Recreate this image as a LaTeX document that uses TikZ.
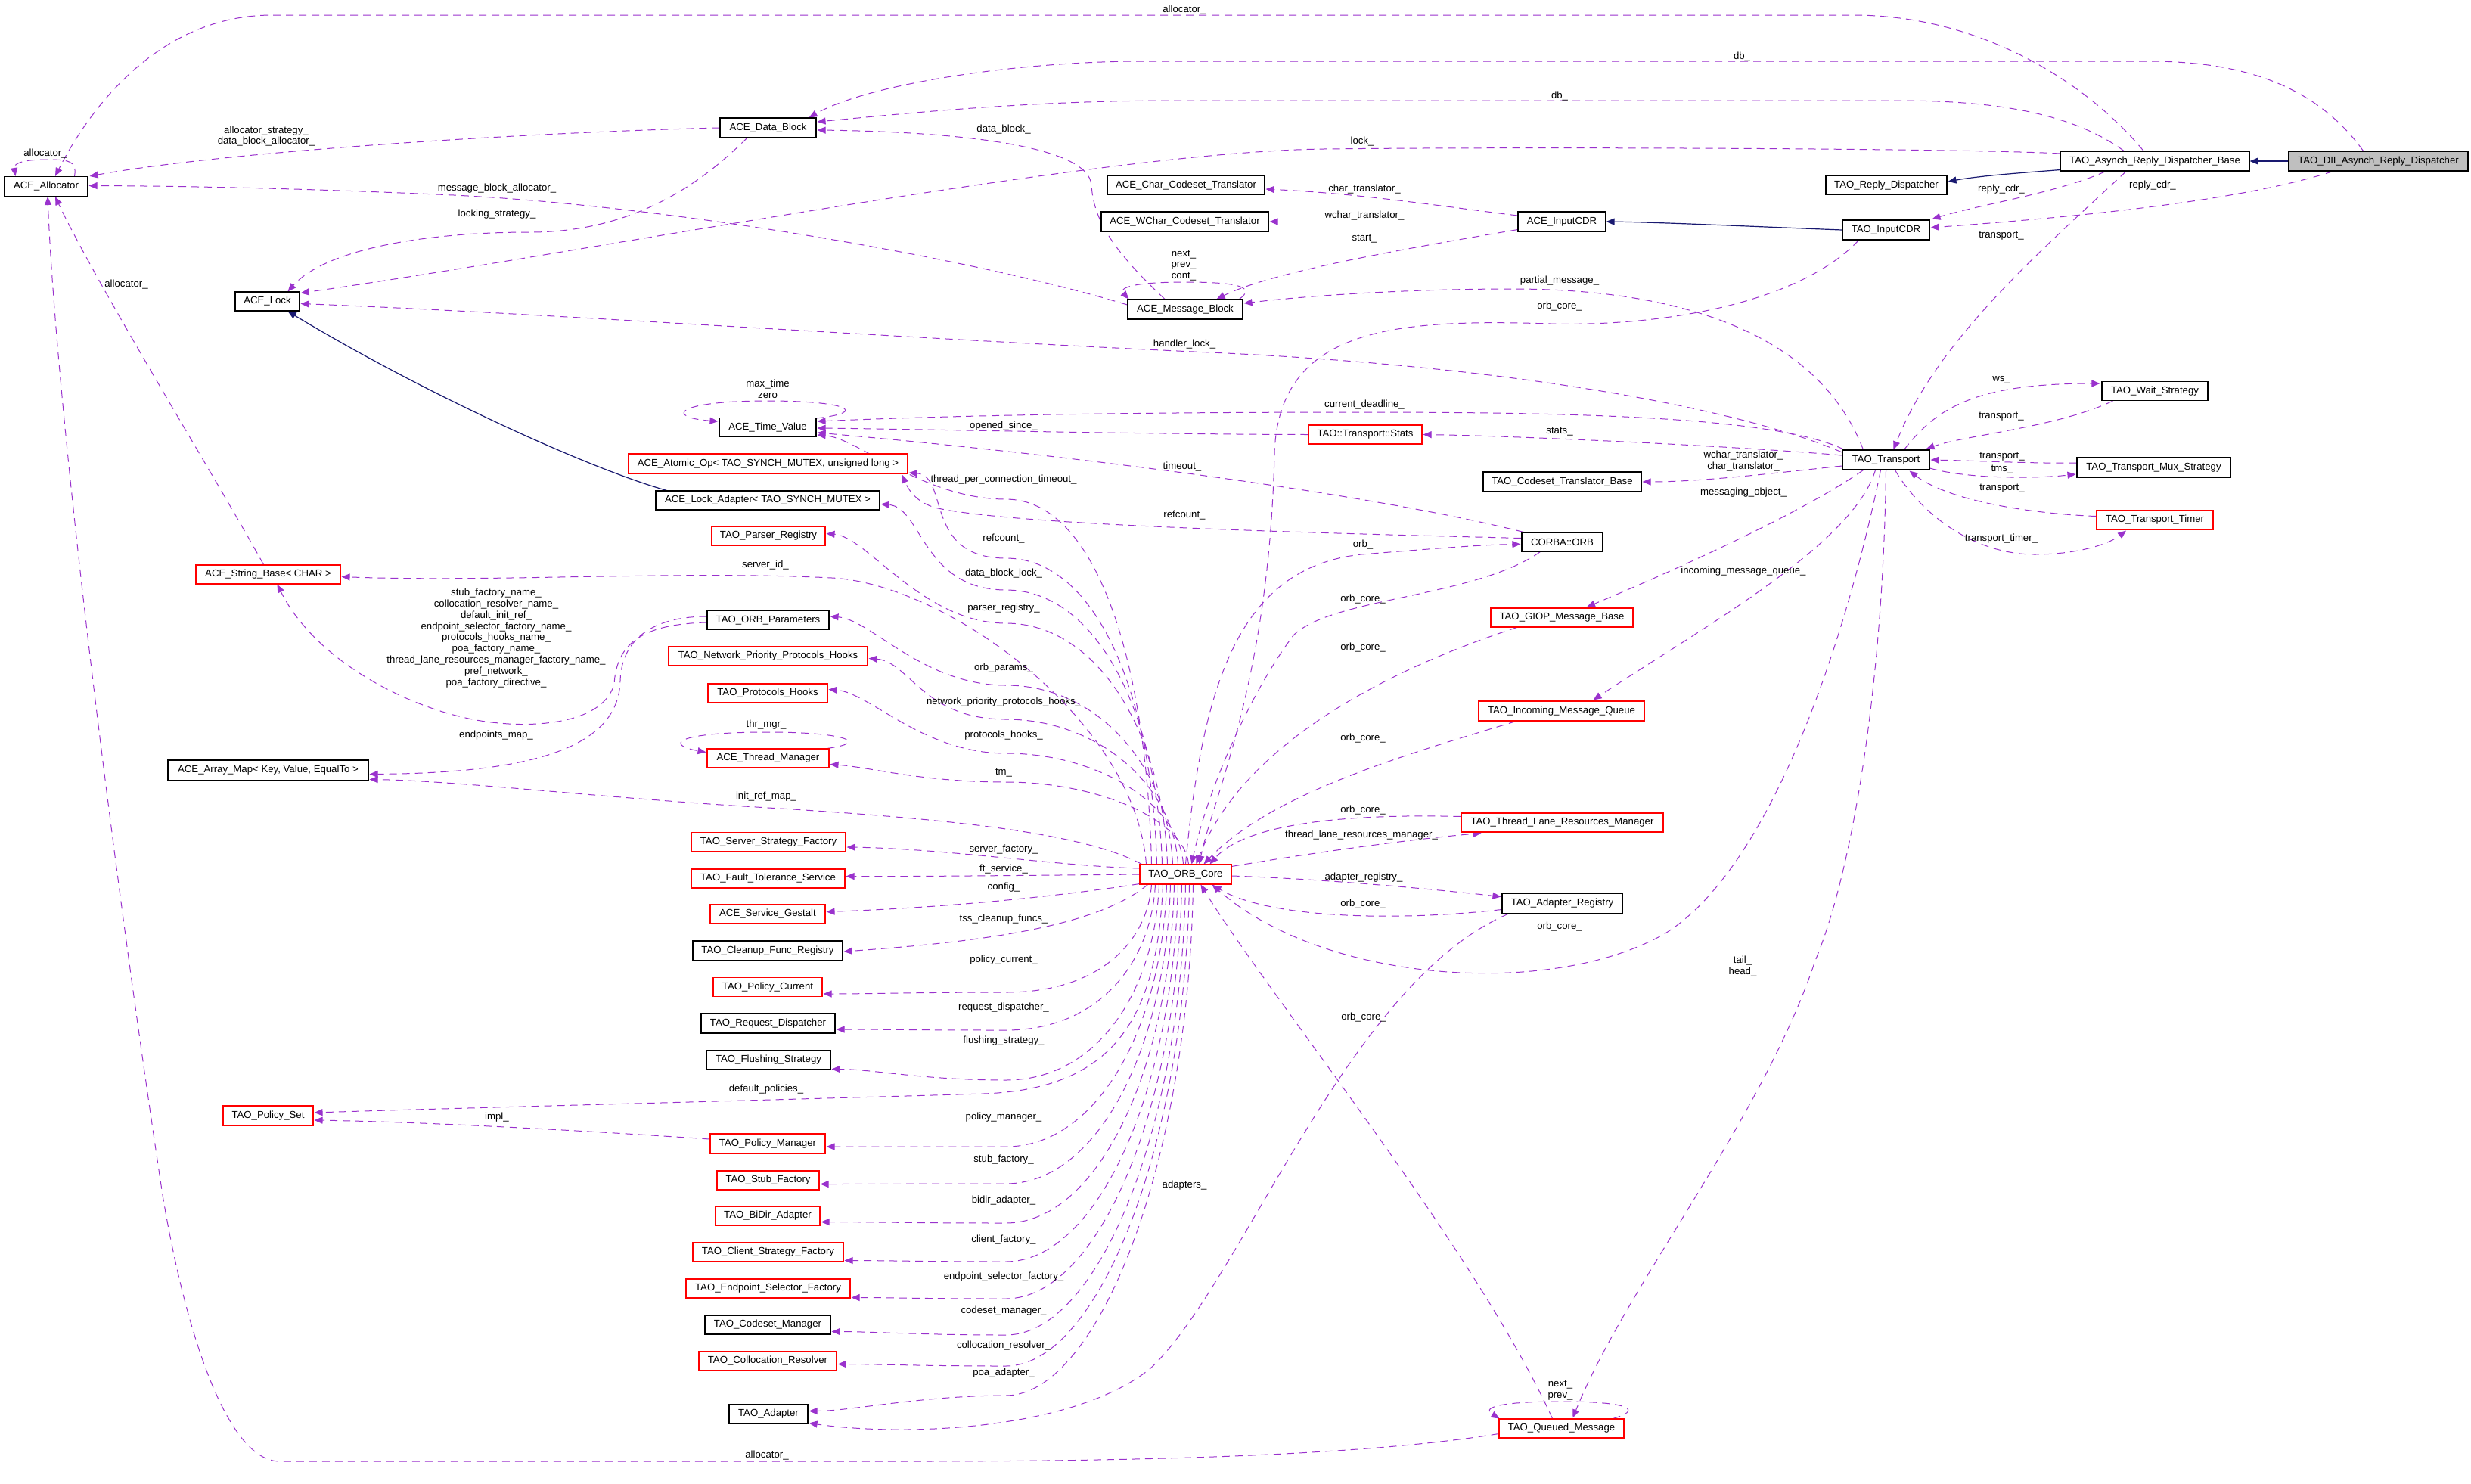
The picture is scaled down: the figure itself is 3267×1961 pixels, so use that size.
\documentclass[tikz,border=0pt]{standalone}
\usepackage{fontspec}
\setmainfont{Liberation Sans}
\usetikzlibrary{arrows.meta,calc}
\pgfdeclarelayer{bg}
\pgfsetlayers{bg,main}
\definecolor{edgec}{HTML}{9A32CD}
\definecolor{inhc}{HTML}{191970}
\definecolor{redc}{HTML}{FF0000}
\definecolor{greyc}{HTML}{BFBFBF}
\newcommand\dxup[4]{\draw[ref] ($(orbcore.north)+(#1,0)$) .. controls ($(orbcore.north)+(#1-6,{-0.55*(1143-#4)})$) and (1450,#4) .. (1330,#4) .. controls (1220,#4) and ($(#2.east)+(55,#3+4)$) .. ($(#2.east)+(1,#3)$);}
\newcommand\dxlow[4]{\draw[ref] ($(orbcore.south)+(#1,0)$) .. controls ($(orbcore.south)+(#1-6,{0.55*(#4-1169)})$) and (1450,#4) .. (1330,#4) .. controls (1220,#4) and ($(#2.east)+(55,#3)$) .. ($(#2.east)+(1,#3)$);}
\begin{document}
\begin{tikzpicture}[x=0.5pt,y=-0.5pt,font=\fontsize{6.6}{7.45}\selectfont,
  cls/.style={draw=black,line width=0.55pt,minimum height=12.5pt,inner sep=0pt,fill=white},
  clsr/.style={cls,draw=redc},
  ref/.style={draw=edgec,line width=0.5pt,dash pattern=on 5pt off 3.5pt,-{Triangle[length=5.5pt,width=4.5pt]}},
  inh/.style={draw=inhc,line width=0.6pt,-{Triangle[length=5.5pt,width=4.5pt]}},
  lbl/.style={inner sep=0pt,align=center}]
\useasboundingbox (0,0) rectangle (3267,1961);
% ---------- classes
\node[cls,fill=greyc,minimum width=118.5pt,minimum height=13pt] (dii) at (3144.5,213) {TAO\_DII\_Asynch\_Reply\_Dispatcher};
\node[cls,minimum width=125pt,minimum height=13pt] (arbase) at (2849,213) {TAO\_Asynch\_Reply\_Dispatcher\_Base};
\node[cls,minimum width=80pt] (replyd) at (2494,245) {TAO\_Reply\_Dispatcher};
\node[cls,minimum width=104pt] (charct) at (1568,245) {ACE\_Char\_Codeset\_Translator};
\node[cls,minimum width=110.5pt,minimum height=13pt] (wcharct) at (1566.5,293) {ACE\_WChar\_Codeset\_Translator};
\node[cls,minimum width=58pt,minimum height=13pt] (aceicdr) at (2065,293) {ACE\_InputCDR};
\node[cls,minimum width=57.5pt,minimum height=13pt] (taoicdr) at (2493.5,304) {TAO\_InputCDR};
\node[cls,minimum width=76pt,minimum height=13pt] (msgblk) at (1567,409) {ACE\_Message\_Block};
\node[cls,minimum width=63.5pt,minimum height=13pt] (datablk) at (1015.5,169) {ACE\_Data\_Block};
\node[cls,minimum width=55pt,minimum height=13pt] (alloc) at (61,246.5) {ACE\_Allocator};
\node[cls,minimum width=42.5pt] (lock) at (353.5,398.5) {ACE\_Lock};
\node[cls,minimum width=64pt] (timev) at (1015,565) {ACE\_Time\_Value};
\node[clsr,minimum width=184.5pt,minimum height=13pt] (atomic) at (1015.5,613) {ACE\_Atomic\_Op< TAO\_SYNCH\_MUTEX, unsigned long >};
\node[cls,minimum width=148pt] (lockad) at (1015,661.5) {ACE\_Lock\_Adapter< TAO\_SYNCH\_MUTEX >};
\node[clsr,minimum width=75pt] (parser) at (1016,708.5) {TAO\_Parser\_Registry};
\node[clsr,minimum width=95.5pt] (strbase) at (354.5,759.5) {ACE\_String\_Base< CHAR >};
\node[cls,minimum width=80.5pt] (orbparams) at (1015.5,820) {TAO\_ORB\_Parameters};
\node[clsr,minimum width=131.5pt] (nphooks) at (1015.5,867.5) {TAO\_Network\_Priority\_Protocols\_Hooks};
\node[clsr,minimum width=79pt] (phooks) at (1015,916.5) {TAO\_Protocols\_Hooks};
\node[clsr,minimum width=80.5pt] (thrmgr) at (1015.5,1002.5) {ACE\_Thread\_Manager};
\node[cls,minimum width=132.5pt,minimum height=13.5pt] (arrmap) at (354.5,1018.5) {ACE\_Array\_Map< Key, Value, EqualTo >};
\node[clsr,minimum width=102pt] (ssf) at (1016,1113) {TAO\_Server\_Strategy\_Factory};
\node[clsr,minimum width=101.5pt] (fts) at (1015.5,1161.5) {TAO\_Fault\_Tolerance\_Service};
\node[clsr,minimum width=76pt] (gestalt) at (1015,1208.5) {ACE\_Service\_Gestalt};
\node[cls,minimum width=99pt,minimum height=13pt] (cleanup) at (1015,1257) {TAO\_Cleanup\_Func\_Registry};
\node[clsr,minimum width=72pt] (polcur) at (1015,1305) {TAO\_Policy\_Current};
\node[cls,minimum width=88.5pt,minimum height=13pt] (reqd) at (1015.5,1353) {TAO\_Request\_Dispatcher};
\node[cls,minimum width=82pt] (flush) at (1016,1401.5) {TAO\_Flushing\_Strategy};
\node[clsr,minimum width=59.5pt,minimum height=13pt] (polset) at (354.5,1475) {TAO\_Policy\_Set};
\node[clsr,minimum width=76pt,minimum height=13pt] (polmgr) at (1015,1512) {TAO\_Policy\_Manager};
\node[clsr,minimum width=67.5pt] (stubf) at (1015.5,1560.5) {TAO\_Stub\_Factory};
\node[clsr,minimum width=69pt] (bidir) at (1015,1607.5) {TAO\_BiDir\_Adapter};
\node[clsr,minimum width=99.5pt] (csf) at (1015.5,1655.5) {TAO\_Client\_Strategy\_Factory};
\node[clsr,minimum width=108.5pt] (esf) at (1015.5,1703.5) {TAO\_Endpoint\_Selector\_Factory};
\node[cls,minimum width=83pt] (csm) at (1015,1751.5) {TAO\_Codeset\_Manager};
\node[clsr,minimum width=91pt] (coll) at (1015,1799.5) {TAO\_Collocation\_Resolver};
\node[cls,minimum width=52pt] (adapter) at (1016,1869.5) {TAO\_Adapter};
\node[clsr,minimum width=60.5pt,minimum height=13pt] (orbcore) at (1567.5,1156) {TAO\_ORB\_Core};
\node[cls,minimum width=53.5pt] (corbaorb) at (2065.5,716.5) {CORBA::ORB};
\node[clsr,minimum width=94pt] (giop) at (2065,816.5) {TAO\_GIOP\_Message\_Base};
\node[clsr,minimum width=109.5pt,minimum height=13pt] (imq) at (2064.5,940) {TAO\_Incoming\_Message\_Queue};
\node[clsr,minimum width=133.5pt] (tlrm) at (2065.5,1087.5) {TAO\_Thread\_Lane\_Resources\_Manager};
\node[cls,minimum width=79.5pt,minimum height=13.5pt] (adreg) at (2065.5,1194.5) {TAO\_Adapter\_Registry};
\node[clsr,minimum width=82.5pt] (qmsg) at (2064.5,1888.5) {TAO\_Queued\_Message};
\node[clsr,minimum width=75pt] (stats) at (1805,574.5) {TAO::Transport::Stats};
\node[cls,minimum width=104.5pt,minimum height=13pt] (cstb) at (2065.5,637) {TAO\_Codeset\_Translator\_Base};
\node[cls,minimum width=57.5pt,minimum height=13pt] (transport) at (2493.5,608) {TAO\_Transport};
\node[cls,minimum width=70pt] (wait) at (2849,517) {TAO\_Wait\_Strategy};
\node[cls,minimum width=101.5pt,minimum height=13pt] (mux) at (2847.5,618) {TAO\_Transport\_Mux\_Strategy};
\node[clsr,minimum width=77pt] (timer) at (2849,687.5) {TAO\_Transport\_Timer};
\begin{pgfonlayer}{bg}
\fill[white] (0,0) rectangle (3267,1961);
% ---------- inheritance
\draw[inh] (dii.west) -- (arbase.east);
\draw[inh] ($(arbase.south west)+(0,-2)$) .. controls (2680,228) and (2620,232) .. ($(replyd.east)+(1,-5)$);
\draw[inh] (taoicdr.west) .. controls (2330,300) and (2200,294) .. (aceicdr.east);
\draw[inh] ($(lockad.north west)+(15,0)$) .. controls (780,620) and (560,520) .. ($(lock.south)+(27,0)$);
% ---------- top edges
\draw[ref] ($(arbase.north)+(-15,0)$) .. controls (2760,110) and (2620,20) .. (2450,20) -- (360,20) .. controls (200,20) and (110,160) .. ($(alloc.north)+(12,0)$);
\draw[ref] ($(dii.north)+(-20,0)$) .. controls (3060,110) and (2960,81) .. (2840,81) -- (1510,81) .. controls (1350,81) and (1150,110) .. ($(datablk.north east)+(-10,0)$);
\draw[ref] ($(arbase.north)+(-41,0)$) .. controls (2740,150) and (2640,133) .. (2510,133) -- (1550,133) .. controls (1350,133) and (1180,152) .. ($(datablk.east)+(1,-8)$);
\draw[ref] ($(msgblk.north)+(-27,0)$) .. controls (1470,330) and (1446,290) .. (1443,245) .. controls (1440,190) and (1250,174) .. ($(datablk.east)+(1,3)$);
\draw[ref] ($(arbase.west)+(0,-10)$) .. controls (2600,196) and (2000,194) .. (1750,197) .. controls (1450,201) and (800,330) .. ($(lock.north east)+(1,2)$);
\draw[ref] (datablk.west) .. controls (700,175) and (300,200) .. ($(alloc.north east)+(2,0)$);
\draw[ref] ($(datablk.south)+(-28,0)$) .. controls (920,250) and (830,307) .. (700,307) .. controls (560,307) and (430,330) .. ($(lock.north)+(27,0)$);
\draw[ref] ($(msgblk.west)+(0,-6)$) .. controls (1300,345) and (900,273) .. (600,258) .. controls (400,249) and (250,246) .. ($(alloc.east)+(1,-1)$);
\draw[ref] ($(alloc.north east)+(-18,0)$) .. controls (102,212) and (90,211) .. (60,211) .. controls (25,211) and (18,218) .. ($(alloc.north west)+(15,0)$);
\draw[ref] ($(strbase.north)+(-6,0)$) .. controls (290,640) and (130,380) .. ($(alloc.south)+(12,0)$);
\draw[ref] ($(qmsg.west)+(0,7)$) .. controls (1800,1925) and (1500,1932) .. (1200,1932) -- (370,1932) .. controls (300,1932) and (245,1760) .. (215,1580) .. controls (150,1150) and (75,550) .. ($(alloc.south)+(2,0)$);
% ---------- CDR / reply dispatcher
\draw[ref] ($(aceicdr.west)+(0,-8)$) .. controls (1900,272) and (1800,256) .. ($(charct.east)+(1,5)$);
\draw[ref] (aceicdr.west) -- ($(wcharct.east)+(1,0)$);
\draw[ref] ($(aceicdr.south west)+(0,-3)$) .. controls (1850,330) and (1680,360) .. ($(msgblk.north east)+(-35,0)$);
\draw[ref] ($(arbase.south)+(-65,0)$) .. controls (2720,255) and (2620,270) .. ($(taoicdr.north east)+(3,-1)$);
\draw[ref] ($(dii.south)+(-60,0)$) .. controls (2950,270) and (2700,290) .. ($(taoicdr.east)+(1,-3)$);
\draw[ref] ($(arbase.south)+(-38,0)$) .. controls (2700,330) and (2560,450) .. ($(transport.north)+(10,0)$);
\draw[ref] ($(msgblk.north east)+(-5,0)$) .. controls (1660,380) and (1640,373) .. (1567,373) .. controls (1490,373) and (1480,382) .. ($(msgblk.north west)+(2,0)$);
\draw[ref] ($(taoicdr.south west)+(22,0)$) .. controls (2380,400) and (2200,432) .. (2050,428) .. controls (1850,422) and (1690,430) .. (1685,600) .. controls (1678,900) and (1605,1050) .. ($(orbcore.north)+(18,0)$);
% ---------- transport
\draw[ref] ($(transport.north west)+(28,0)$) .. controls (2400,430) and (2200,382) .. (2000,382) .. controls (1850,382) and (1720,392) .. ($(msgblk.east)+(1,-8)$);
\draw[ref] ($(transport.west)+(0,-10)$) .. controls (2300,540) and (2000,484) .. (1600,466) .. controls (1200,448) and (700,413) .. ($(lock.east)+(1,3)$);
\draw[ref] ($(transport.north)+(24,0)$) .. controls (2560,540) and (2610,507) .. ($(wait.west)+(-2,-10)$);
\draw[ref] ($(wait.south west)+(15,0)$) .. controls (2720,565) and (2600,575) .. ($(transport.north east)+(-5,-1)$);
\draw[ref] ($(transport.north west)+(3,0)$) .. controls (2350,552) and (2100,545) .. (1800,545) .. controls (1400,545) and (1200,552) .. ($(timev.east)+(1,-8)$);
\draw[ref] (stats.west) .. controls (1500,574) and (1200,567) .. ($(timev.east)+(1,1)$);
\draw[ref] ($(transport.west)+(0,-6)$) .. controls (2300,590) and (2000,576) .. ($(stats.east)+(1,0)$);
\draw[ref] ($(timev.north east)+(0,1)$) .. controls (1150,545) and (1120,530) .. (1015,530) .. controls (890,530) and (880,552) .. ($(timev.west)+(-1,-8)$);
\draw[ref] ($(transport.west)+(0,8)$) .. controls (2350,625) and (2250,637) .. ($(cstb.east)+(1,0)$);
\draw[ref] ($(mux.west)+(0,-6)$) .. controls (2690,613) and (2610,609) .. ($(transport.east)+(1,0)$);
\draw[ref] ($(transport.east)+(0,11)$) .. controls (2600,633) and (2690,633) .. ($(mux.west)+(-1,9)$);
\draw[ref] ($(timer.west)+(0,-5)$) .. controls (2700,680) and (2580,665) .. ($(transport.south east)+(-27,1)$);
\draw[ref] ($(transport.south)+(12,0)$) .. controls (2540,680) and (2610,733) .. (2690,733) .. controls (2750,733) and (2790,718) .. ($(timer.south)+(-38,1)$);
\draw[ref] ($(transport.south west)+(28,0)$) .. controls (2380,680) and (2200,760) .. ($(giop.north)+(33,-1)$);
\draw[ref] ($(transport.south)+(-14,0)$) .. controls (2450,720) and (2250,830) .. ($(imq.north)+(42,-1)$);
\draw[ref] ($(transport.south)+(0,0)$) .. controls (2490,900) and (2450,1150) .. (2400,1270) .. controls (2330,1480) and (2150,1700) .. ($(qmsg.north)+(15,-1)$);
\draw[ref] ($(transport.south)+(-7,0)$) .. controls (2440,850) and (2340,1150) .. (2200,1235) .. controls (2050,1320) and (1750,1300) .. ($(orbcore.south)+(35,0)$);
% ---------- CORBA::ORB
\draw[ref] ($(corbaorb.north west)+(3,0)$) .. controls (1800,650) and (1400,600) .. ($(timev.east)+(1,7)$);
\draw[ref] ($(corbaorb.west)+(0,-5)$) .. controls (1750,705) and (1350,695) .. (1240,672) .. controls (1210,665) and (1200,645) .. ($(atomic.south east)+(-8,1)$);
\draw[ref] (orbcore.north) .. controls (1590,900) and (1640,750) .. (1800,733) .. controls (1900,725) and (1960,720) .. ($(corbaorb.west)+(-1,3)$);
\draw[ref] ($(corbaorb.south west)+(25,0)$) .. controls (1950,790) and (1760,790) .. (1710,840) .. controls (1650,920) and (1595,1050) .. ($(orbcore.north)+(8,0)$);
% ---------- right side of ORB core
\draw[ref] ($(giop.south west)+(35,0)$) .. controls (1820,890) and (1640,990) .. ($(orbcore.north)+(14,0)$);
\draw[ref] ($(imq.south west)+(50,0)$) .. controls (1850,1000) and (1680,1050) .. ($(orbcore.north)+(24,0)$);
\draw[ref] ($(tlrm.west)+(0,-8)$) .. controls (1800,1076) and (1650,1085) .. ($(orbcore.north)+(32,0)$);
\draw[ref] ($(orbcore.north east)+(0,3)$) .. controls (1750,1125) and (1880,1108) .. ($(tlrm.south west)+(27,1)$);
\draw[ref] ($(orbcore.east)+(0,2)$) .. controls (1750,1162) and (1900,1176) .. ($(adreg.west)+(-1,-9)$);
\draw[ref] ($(adreg.west)+(0,8)$) .. controls (1850,1218) and (1680,1215) .. ($(orbcore.south east)+(-25,1)$);
\draw[ref] ($(qmsg.north)+(-12,0)$) .. controls (1950,1650) and (1680,1320) .. ($(orbcore.south)+(20,0)$);
\draw[ref] ($(adreg.south west)+(8,0)$) .. controls (1780,1300) and (1640,1700) .. (1520,1810) .. controls (1420,1890) and (1200,1900) .. ($(adapter.east)+(1,12)$);
\draw[ref] ($(qmsg.north east)+(-15,0)$) .. controls (2170,1865) and (2160,1853) .. (2065,1853) .. controls (1975,1853) and (1960,1862) .. ($(qmsg.north west)+(1,0)$);
% ---------- ORB core to the left column
\dxup{-45}{timev}{10}{660}
\dxup{-38}{atomic}{12}{738}
\dxup{-31}{lockad}{5}{780}
\dxup{-24}{parser}{-3}{824}
\dxup{-17}{orbparams}{-5}{906}
\dxup{-10}{nphooks}{3}{951}
\dxup{-3}{phooks}{-5}{996}
\dxup{4}{thrmgr}{8}{1034}
\draw[ref] ($(orbcore.north)+(-52,0)$) .. controls (1500,950) and (1250,772) .. (1100,764) .. controls (900,754) and (650,770) .. ($(strbase.east)+(1,3)$);
\draw[ref] ($(orbcore.north west)+(3,0)$) .. controls (1430,1100) and (1250,1082) .. (1000,1067) .. controls (800,1055) and (600,1032) .. ($(arrmap.east)+(1,12)$);
\draw[ref] ($(orbcore.west)+(0,-8)$) .. controls (1400,1145) and (1250,1122) .. ($(ssf.east)+(1,7)$);
\draw[ref] (orbcore.west) .. controls (1400,1157) and (1200,1159) .. ($(fts.east)+(1,-3)$);
\draw[ref] ($(orbcore.south west)+(0,-1)$) .. controls (1400,1185) and (1250,1200) .. ($(gestalt.east)+(1,-3)$);
\draw[ref] ($(orbcore.south)+(-50,0)$) .. controls (1450,1225) and (1300,1245) .. ($(cleanup.east)+(1,1)$);
\dxlow{-45}{polcur}{9}{1312}
\dxlow{-40}{reqd}{8}{1362}
\dxlow{-35}{flush}{12}{1428}
\draw[ref] ($(orbcore.south)+(-30,0)$) .. controls (1530,1350) and (1470,1440) .. (1300,1446) .. controls (1000,1455) and (600,1465) .. ($(polset.east)+(1,-4)$);
\dxlow{-25}{polmgr}{4}{1516}
\dxlow{-20}{stubf}{5}{1565}
\dxlow{-15}{bidir}{8}{1617}
\dxlow{-10}{csf}{11}{1668}
\dxlow{-5}{esf}{12}{1717}
\dxlow{0}{csm}{9}{1765}
\dxlow{5}{coll}{4}{1806}
\dxlow{10}{adapter}{-4}{1845}
\draw[ref] ($(polmgr.west)+(0,-6)$) .. controls (850,1500) and (600,1484) .. ($(polset.east)+(1,6)$);
\draw[ref] ($(thrmgr.north east)+(-3,0)$) .. controls (1150,982) and (1120,968) .. (1015,968) .. controls (890,968) and (880,985) .. ($(thrmgr.west)+(-1,-8)$);
\draw[ref] ($(orbparams.west)+(0,-5)$) .. controls (870,815) and (822,840) .. (820,900) .. controls (818,990) and (700,1022) .. ($(arrmap.east)+(1,5)$);
\draw[ref] ($(orbparams.west)+(0,3)$) .. controls (850,825) and (815,850) .. (812,905) .. controls (795,960) and (700,960) .. (660,956) .. controls (560,948) and (420,880) .. ($(strbase.south)+(12,0)$);
\end{pgfonlayer}
% ---------- labels
\node[lbl] (l1) at (1566,13) {allocator\_};
\node[lbl] (l2) at (2303,75) {db\_};
\node[lbl] (l3) at (2062,127) {db\_};
\node[lbl] (l4) at (1327,171) {data\_block\_};
\node[lbl] (l5) at (1801,187) {lock\_};
\node[lbl] (l6) at (352,180) {allocator\_strategy\_\\data\_block\_allocator\_};
\node[lbl] (l7) at (60,203) {allocator\_};
\node[lbl] (l8) at (1804,250) {char\_translator\_};
\node[lbl] (l9) at (2646,250) {reply\_cdr\_};
\node[lbl] (l10) at (2846,245) {reply\_cdr\_};
\node[lbl] (l11) at (657,249) {message\_block\_allocator\_};
\node[lbl] (l12) at (657,283) {locking\_strategy\_};
\node[lbl] (l13) at (1804,285) {wchar\_translator\_};
\node[lbl] (l14) at (2646,312) {transport\_};
\node[lbl] (l15) at (1804,316) {start\_};
\node[lbl] (l16) at (1565,351) {next\_\\prev\_\\cont\_};
\node[lbl] (l17) at (2062,371) {partial\_message\_};
\node[lbl] (l18) at (167,376) {allocator\_};
\node[lbl] (l19) at (2062,405) {orb\_core\_};
\node[lbl] (l20) at (1566,455) {handler\_lock\_};
\node[lbl] (l21) at (2646,502) {ws\_};
\node[lbl] (l22) at (1015,514) {max\_time\\zero};
\node[lbl] (l23) at (1804,535) {current\_deadline\_};
\node[lbl] (l24) at (2646,551) {transport\_};
\node[lbl] (l25) at (1327,563) {opened\_since\_};
\node[lbl] (l26) at (2062,571) {stats\_};
\node[lbl] (l27) at (2305,609.5) {wchar\_translator\_\\char\_translator\_};
\node[lbl] (l28) at (2647,604) {transport\_};
\node[lbl] (l29) at (2647,621) {tms\_};
\node[lbl] (l30) at (1563,617) {timeout\_};
\node[lbl] (l31) at (1327,634) {thread\_per\_connection\_timeout\_};
\node[lbl] (l32) at (2647,646) {transport\_};
\node[lbl] (l33) at (2305,651) {messaging\_object\_};
\node[lbl] (l34) at (1566,681) {refcount\_};
\node[lbl] (l35) at (1327,712) {refcount\_};
\node[lbl] (l36) at (1802,720) {orb\_};
\node[lbl] (l37) at (2646,712) {transport\_timer\_};
\node[lbl] (l38) at (1012,747) {server\_id\_};
\node[lbl] (l39) at (2305,755) {incoming\_message\_queue\_};
\node[lbl] (l40) at (1327,758) {data\_block\_lock\_};
\node[lbl] (l41) at (1802,792) {orb\_core\_};
\node[lbl] (l42) at (1327,804) {parser\_registry\_};
\node[lbl] (l43) at (656,843.5) {stub\_factory\_name\_\\collocation\_resolver\_name\_\\default\_init\_ref\_\\endpoint\_selector\_factory\_name\_\\protocols\_hooks\_name\_\\poa\_factory\_name\_\\thread\_lane\_resources\_manager\_factory\_name\_\\pref\_network\_\\poa\_factory\_directive\_};
\node[lbl] (l44) at (1802,856) {orb\_core\_};
\node[lbl] (l45) at (1327,883) {orb\_params\_};
\node[lbl] (l46) at (1327,928) {network\_priority\_protocols\_hooks\_};
\node[lbl] (l47) at (1013,958) {thr\_mgr\_};
\node[lbl] (l48) at (656,972) {endpoints\_map\_};
\node[lbl] (l49) at (1327,972) {protocols\_hooks\_};
\node[lbl] (l50) at (1802,976) {orb\_core\_};
\node[lbl] (l51) at (1327,1022) {tm\_};
\node[lbl] (l52) at (1013,1053) {init\_ref\_map\_};
\node[lbl] (l53) at (1802,1071) {orb\_core\_};
\node[lbl] (l54) at (1800,1104) {thread\_lane\_resources\_manager\_};
\node[lbl] (l55) at (1327,1123) {server\_factory\_};
\node[lbl] (l56) at (1327,1149) {ft\_service\_};
\node[lbl] (l57) at (1803,1160) {adapter\_registry\_};
\node[lbl] (l58) at (1327,1173) {config\_};
\node[lbl] (l59) at (1802,1195) {orb\_core\_};
\node[lbl] (l60) at (1327,1215) {tss\_cleanup\_funcs\_};
\node[lbl] (l61) at (2062,1225) {orb\_core\_};
\node[lbl] (l62) at (1327,1269) {policy\_current\_};
\node[lbl] (l63) at (2304,1277.5) {tail\_\\head\_};
\node[lbl] (l64) at (1327,1332) {request\_dispatcher\_};
\node[lbl] (l65) at (1803,1345) {orb\_core\_};
\node[lbl] (l66) at (1327,1376) {flushing\_strategy\_};
\node[lbl] (l67) at (1013,1440) {default\_policies\_};
\node[lbl] (l68) at (657,1477) {impl\_};
\node[lbl] (l69) at (1327,1477) {policy\_manager\_};
\node[lbl] (l70) at (1327,1533) {stub\_factory\_};
\node[lbl] (l71) at (1566,1567) {adapters\_};
\node[lbl] (l72) at (1327,1587) {bidir\_adapter\_};
\node[lbl] (l73) at (1327,1639) {client\_factory\_};
\node[lbl] (l74) at (1327,1688) {endpoint\_selector\_factory\_};
\node[lbl] (l75) at (1327,1733) {codeset\_manager\_};
\node[lbl] (l76) at (1327,1779) {collocation\_resolver\_};
\node[lbl] (l77) at (1327,1815) {poa\_adapter\_};
\node[lbl] (l78) at (2063,1838) {next\_\\prev\_};
\node[lbl] (l79) at (1014,1924) {allocator\_};
\end{tikzpicture}
\end{document}
